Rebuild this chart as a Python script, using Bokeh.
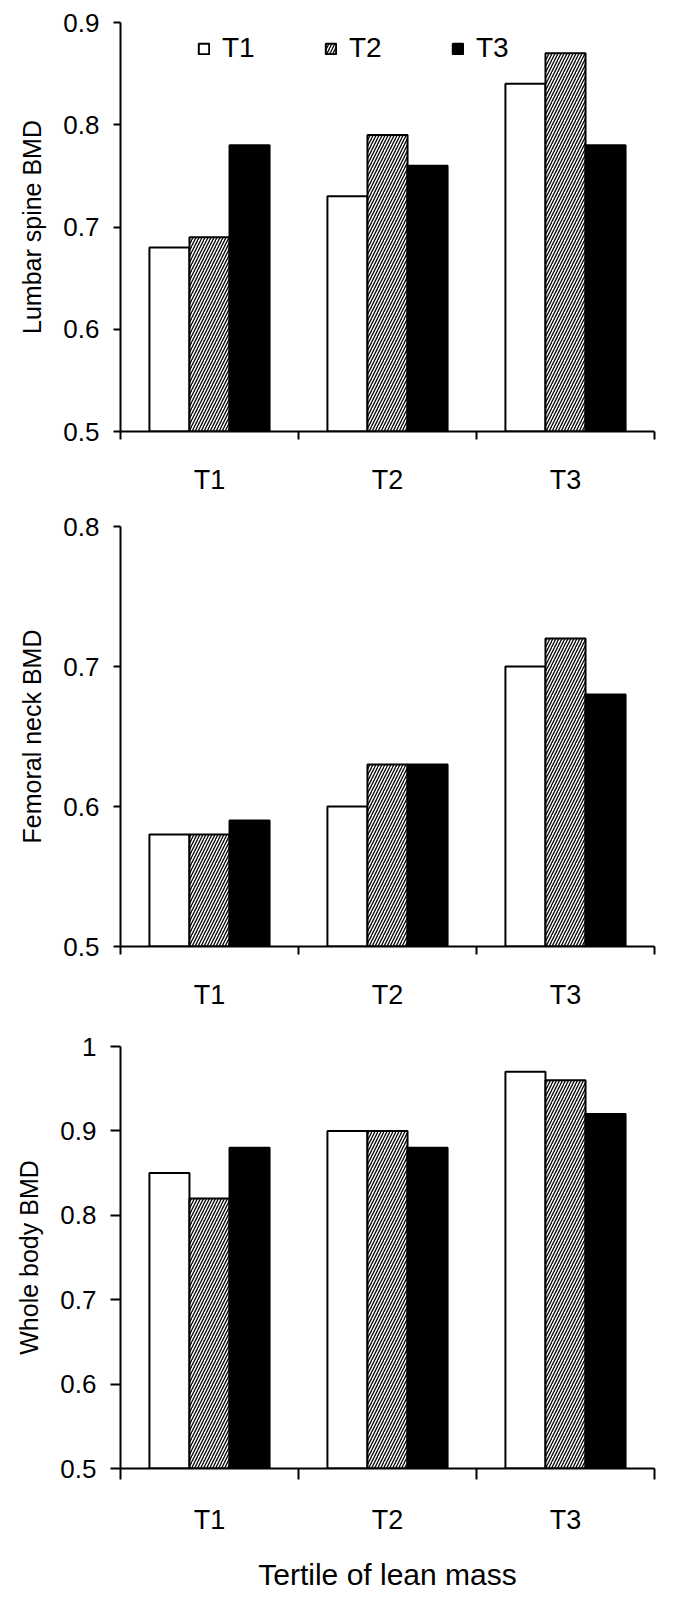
from bokeh.plotting import figure
from bokeh.layouts import column
from bokeh.models import FixedTicker, Legend, LegendItem
from bokeh.embed import file_html
from bokeh.resources import INLINE

# ---- data ----
categories = ["T1", "T2", "T3"]          # tertile of lean mass (x categories)
series_names = ["T1", "T2", "T3"]        # legend series

lumbar_t1 = [0.68, 0.73, 0.84]
lumbar_t2 = [0.69, 0.79, 0.87]
lumbar_t3 = [0.78, 0.76, 0.78]

femoral_t1 = [0.58, 0.60, 0.70]
femoral_t2 = [0.58, 0.63, 0.72]
femoral_t3 = [0.59, 0.63, 0.68]

whole_t1 = [0.85, 0.90, 0.97]
whole_t2 = [0.82, 0.90, 0.96]
whole_t3 = [0.88, 0.88, 0.92]

lumbar_ticks = [0.5, 0.6, 0.7, 0.8, 0.9]
femoral_ticks = [0.5, 0.6, 0.7, 0.8]
whole_ticks = [0.5, 0.6, 0.7, 0.8, 0.9, 1.0]

y_labels = ["Lumbar spine BMD", "Femoral neck BMD", "Whole body BMD"]
x_title = "Tertile of lean mass"

FONT = "Liberation Sans"
BAR_W = 0.225
OFFSETS = [-BAR_W, 0.0, BAR_W]
STYLES = [
    dict(fill_color="white"),
    dict(fill_color="white", hatch_pattern="/", hatch_color="black",
         hatch_scale=6, hatch_weight=1.3),
    dict(fill_color="black"),
]


def fmt(t):
    return f"{t:g}"


def make_panel(series_vals, yticks, ylabel, width, height, bl, br, bt, bb,
               legend=False, xlabel=None, ytick_out=7, xtick_out=8):
    n = len(categories)
    p = figure(width=width, height=height, x_range=(0, n),
               y_range=(yticks[0], yticks[-1]),
               output_backend="svg", toolbar_location=None,
               min_border_left=bl, min_border_right=br,
               min_border_top=bt, min_border_bottom=bb)
    p.outline_line_color = None
    p.xgrid.visible = False
    p.ygrid.visible = False
    p.background_fill_color = "white"
    p.border_fill_color = "white"

    renderers = []
    for vals, off, style in zip(series_vals, OFFSETS, STYLES):
        xs = [i + 0.5 + off for i in range(n)]
        r = p.vbar(x=xs, top=vals, bottom=yticks[0], width=BAR_W,
                   line_color="black", line_width=2, **style)
        renderers.append(r)

    # x axis: category labels centred, ticks at category boundaries
    centers = [i + 0.5 for i in range(n)]
    bounds = [float(i) for i in range(n + 1)]
    xa = p.xaxis[0]
    xa.ticker = FixedTicker(ticks=centers, minor_ticks=bounds)
    xa.major_label_overrides = {c: lab for c, lab in zip(centers, categories)}
    xa.major_tick_out = 0
    xa.major_tick_in = 0
    xa.minor_tick_out = xtick_out
    xa.minor_tick_in = 0
    xa.minor_tick_line_width = 2
    xa.minor_tick_line_color = "black"
    xa.axis_line_width = 2
    xa.axis_line_color = "black"
    xa.major_label_text_font = FONT
    xa.major_label_text_font_size = "27px"
    xa.major_label_text_color = "black"
    xa.major_label_standoff = 25
    if xlabel:
        xa.axis_label = xlabel
        xa.axis_label_text_font = FONT
        xa.axis_label_text_font_size = "30px"
        xa.axis_label_text_font_style = "normal"
        xa.axis_label_text_color = "black"
        xa.axis_label_standoff = 20

    ya = p.yaxis[0]
    ya.ticker = FixedTicker(ticks=yticks, minor_ticks=[])
    ya.major_label_overrides = {t: fmt(t) for t in yticks}
    ya.major_tick_out = ytick_out
    ya.major_tick_in = 0
    ya.major_tick_line_width = 2
    ya.major_tick_line_color = "black"
    ya.axis_line_width = 2
    ya.axis_line_color = "black"
    ya.major_label_text_font = FONT
    ya.major_label_text_font_size = "26px"
    ya.major_label_text_color = "black"
    ya.major_label_standoff = 14
    ya.axis_label = ylabel
    ya.axis_label_text_font = FONT
    ya.axis_label_text_font_size = "25px"
    ya.axis_label_text_font_style = "normal"
    ya.axis_label_text_color = "black"
    ya.axis_label_standoff = 14

    if legend:
        items = [LegendItem(label=s, renderers=[r])
                 for s, r in zip(series_names, renderers)]
        lg = Legend(items=items, orientation="horizontal", location=(77, 367),
                    glyph_width=13, glyph_height=13, label_standoff=12,
                    label_width=68, spacing=34, padding=0, margin=0,
                    border_line_color=None, background_fill_alpha=0,
                    label_text_font=FONT, label_text_font_size="28px",
                    label_text_color="black")
        p.add_layout(lg)
    return p


p1 = make_panel([lumbar_t1, lumbar_t2, lumbar_t3], lumbar_ticks, y_labels[0],
                width=669, height=497, bl=112, br=15, bt=22, bb=62, legend=True)
p2 = make_panel([femoral_t1, femoral_t2, femoral_t3], femoral_ticks, y_labels[1],
                width=669, height=515, bl=112, br=9, bt=29, bb=66)
p3 = make_panel([whole_t1, whole_t2, whole_t3], whole_ticks, y_labels[2],
                width=669, height=581, bl=120, br=9, bt=34, bb=125,
                xlabel=x_title, ytick_out=10, xtick_out=11)

layout = column(p1, p2, p3, spacing=0)
open("out.html", "w").write(file_html(layout, INLINE))
